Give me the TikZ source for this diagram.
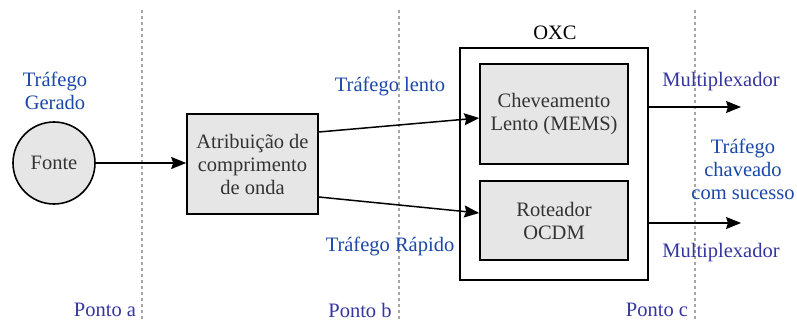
\documentclass[tikz,border=0pt]{standalone}
\usepackage{fontspec}
\setmainfont{Liberation Serif}
\newfontfamily\tnrfont{Liberation Serif}
\usetikzlibrary{arrows.meta}
\definecolor{tblue}{HTML}{1A47A8}
\definecolor{pblue}{HTML}{3535A0}
\definecolor{bfill}{HTML}{E6E6E6}
\definecolor{txt}{HTML}{333333}
\begin{document}
\begin{tikzpicture}[x=1pt,y=-1pt,
  every node/.style={font=\tnrfont\fontsize{20.5}{23}\selectfont, align=center, inner sep=0pt},
  blk/.style={draw=black, line width=1.6pt, fill=bfill, text=txt},
  lbl/.style={text=tblue},
  plbl/.style={text=pblue},
  guide/.style={draw=gray!70, line width=1.4pt, dash pattern=on 3pt off 3pt},
  conn/.style={line width=1.5pt, -{Stealth[length=15pt,width=12pt,inset=2pt]}}]
\useasboundingbox (0,0) rectangle (797,320);
% guides
\coordinate (ga1) at (142,10); \coordinate (ga2) at (142,320);
\coordinate (gb1) at (399,10); \coordinate (gb2) at (399,320);
\coordinate (gc1) at (695,10); \coordinate (gc2) at (695,320);
\draw[guide] (ga1) -- (ga2);
\draw[guide] (gb1) -- (gb2);
\draw[guide] (gc1) -- (gc2);
% nodes
\node[blk, circle, minimum size=82pt] (fonte) at (54,163) {Fonte};
\node[blk, minimum width=131pt, minimum height=100pt] (atr) at (252.5,164) {Atribuição de\\comprimento\\de onda};
\node[draw=black, line width=1.6pt, fill=white, minimum width=188pt, minimum height=232pt] (oxc) at (554,164) {};
\node (oxcl) at (555,33) {OXC};
\node[blk, minimum width=148pt, minimum height=100pt] (chev) at (554,114) {Cheveamento\\Lento (MEMS)};
\node[blk, minimum width=148pt, minimum height=79pt] (rot) at (554,220.5) {Roteador\\OCDM};
% connectors
\draw[conn] (fonte.east) -- (atr.west |- fonte.east);
\draw[conn] (atr.east |- 0,132) -- (chev.west |- 0,118);
\draw[conn] (atr.east |- 0,197) -- (rot.west |- 0,213);
\coordinate (o1) at (741,107);
\coordinate (o2) at (741,223);
\draw[conn] (oxc.east |- o1) -- (o1);
\draw[conn] (oxc.east |- o2) -- (o2);
% labels
\node[lbl] (tg) at (55,91) {Tráfego\\Gerado};
\node[lbl] (tl) at (390,86) {Tráfego lento};
\node[lbl] (tr) at (390,246) {Tráfego Rápido};
\node[plbl] (m1) at (721,82) {Multiplexador};
\node[plbl] (m2) at (721,253) {Multiplexador};
\node[lbl] (tc) at (743,169) {Tráfego\\chaveado\\com sucesso};
\node[plbl] (pa) at (105,310) {Ponto a};
\node[plbl] (pb) at (360,310) {Ponto b};
\node[plbl] (pc) at (657,310) {Ponto c};
\end{tikzpicture}
\end{document}
